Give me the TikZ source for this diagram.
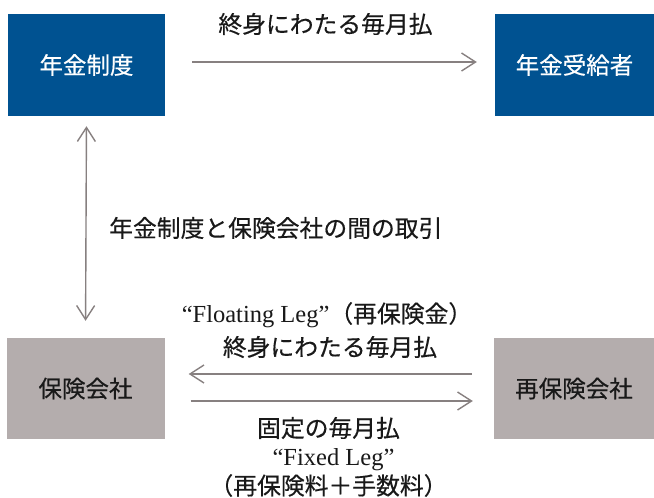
\documentclass[tikz,border=0pt]{standalone}
\usepackage{fontspec}
\setmainfont{Noto Sans CJK JP}[FakeBold=0.4]
\newfontfamily\latserif{Liberation Serif}
\usetikzlibrary{arrows.meta}
\definecolor{boxblue}{RGB}{0,82,145}
\definecolor{boxgray}{RGB}{180,173,173}
\definecolor{arrgray}{RGB}{135,128,128}
\definecolor{txt}{RGB}{25,25,25}
\begin{document}
\begin{tikzpicture}[x=1pt,y=-1pt,
  bluebox/.style={fill=boxblue,text=white,minimum width=157pt,minimum height=102pt,inner sep=0pt,font=\fontsize{23.5}{27}\selectfont},
  graybox/.style={fill=boxgray,text=txt,minimum width=158pt,minimum height=101pt,inner sep=0pt,font=\fontsize{23.5}{27}\selectfont},
  lbl/.style={text=txt,inner sep=0pt,font=\fontsize{23.8}{27}\selectfont},
  arr/.style={draw=arrgray,line width=1.4pt,-{Straight Barb[length=14pt,width=18pt,line width=1.4pt]}},
  darr/.style={draw=arrgray,line width=1.4pt,{Straight Barb[length=14pt,width=18pt,line width=1.4pt]}-{Straight Barb[length=14pt,width=18pt,line width=1.4pt]}}
]
\fill[white] (0,0) rectangle (654,498);
\useasboundingbox (0,0) rectangle (654,498);

\node[bluebox] (pension) at (86.5,65) {年金制度};
\node[bluebox,minimum width=159pt] (recipient) at (574.5,65) {年金受給者};
\node[graybox] (insurer) at (85.5,388.5) {保険会社};
\node[graybox,minimum width=160pt] (reinsurer) at (574,388.5) {再保険会社};

\draw[arr,shorten <=27pt,shorten >=18pt] ([yshift=3pt]pension.east) -- ([yshift=3pt]recipient.west);
\draw[darr,shorten <=10pt,shorten >=17pt] (pension.south) -- (insurer.north);
\draw[arr,shorten <=22pt,shorten >=24pt] ([yshift=14.5pt]reinsurer.west) -- ([yshift=14.5pt]insurer.east);
\draw[arr,shorten <=26pt,shorten >=21pt] ([yshift=-12.5pt]insurer.east) -- ([yshift=-12.5pt]reinsurer.west);

\node[lbl] (l1) at (325.5,24) {終身にわたる毎月払};
\node[lbl,anchor=west] (l2) at (109,228) {年金制度と保険会社の間の取引};
\node[lbl] (l3) at (327,315) {{\latserif\fontsize{24.5}{27}\selectfont “Floating Leg”}（再保険金）};
\node[lbl] (l4) at (330,347) {終身にわたる毎月払};
\node[lbl] (l5) at (328.5,428) {固定の毎月払};
\node[lbl] (l6) at (333.5,460) {\latserif\fontsize{24.5}{27}\selectfont “Fixed Leg”};
\node[lbl] (l7) at (328.5,485.5) {（再保険料＋手数料）};
\end{tikzpicture}
\end{document}
